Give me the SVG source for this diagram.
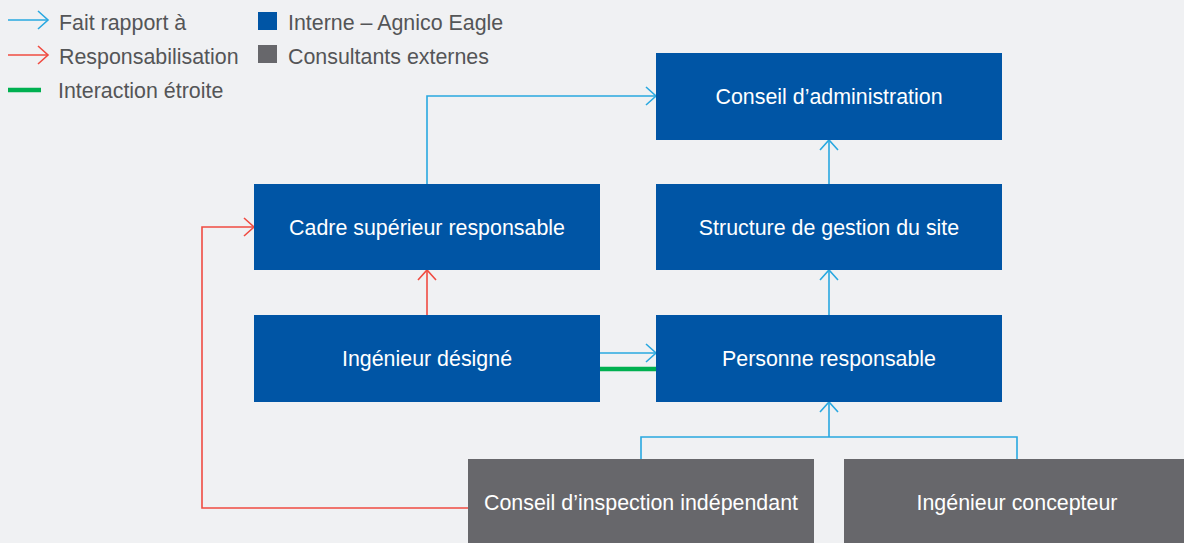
<svg xmlns="http://www.w3.org/2000/svg" width="1184" height="543" viewBox="0 0 1184 543">
<style>
text{font-family:"Liberation Sans",Arial,sans-serif;font-size:21.4px}
.lg{fill:#545557}
.nt{fill:#ffffff;text-anchor:middle}
.int{fill:#0055a5}
.ext{fill:#67676b}
.bl{fill:none;stroke:#29a8e0;stroke-width:1.6}
.rd{fill:none;stroke:#f04b41;stroke-width:1.6}
.gr{fill:none;stroke:#00b050;stroke-width:4.5}
</style>
<defs>
<marker id="ab" markerUnits="userSpaceOnUse" markerWidth="14" markerHeight="22" viewBox="-12 -11 14 22" refX="0" refY="0" orient="auto">
<path d="M-10,-9 L0,0 L-10,9" fill="none" stroke="#29a8e0" stroke-width="1.6"/>
</marker>
<marker id="ar" markerUnits="userSpaceOnUse" markerWidth="14" markerHeight="22" viewBox="-12 -11 14 22" refX="0" refY="0" orient="auto">
<path d="M-10,-9 L0,0 L-10,9" fill="none" stroke="#f04b41" stroke-width="1.6"/>
</marker>
</defs>
<rect width="1184" height="543" fill="#f0f1f3"/>
<g id="legend">
<line class="bl" x1="8" y1="20" x2="48" y2="20" marker-end="url(#ab)"/>
<text class="lg" x="59" y="30">Fait rapport à</text>
<line class="rd" x1="8" y1="55" x2="48" y2="55" marker-end="url(#ar)"/>
<text class="lg" x="59" y="64">Responsabilisation</text>
<line class="gr" x1="8" y1="90" x2="41" y2="90"/>
<text class="lg" x="58" y="98">Interaction étroite</text>
<rect class="int" x="258" y="12" width="19" height="18"/>
<text class="lg" x="288" y="30">Interne – Agnico Eagle</text>
<rect class="ext" x="258" y="45" width="19" height="18"/>
<text class="lg" x="288" y="64">Consultants externes</text>
</g>
<g id="connectors">
<polyline class="bl" points="427,184 427,96 656,96" marker-end="url(#ab)"/>
<line class="bl" x1="829" y1="184" x2="829" y2="140" marker-end="url(#ab)"/>
<line class="bl" x1="829" y1="315" x2="829" y2="270" marker-end="url(#ab)"/>
<line class="rd" x1="427" y1="315" x2="427" y2="270" marker-end="url(#ar)"/>
<line class="bl" x1="600" y1="353" x2="656" y2="353" marker-end="url(#ab)"/>
<line class="gr" x1="600" y1="369" x2="656" y2="369"/>
<polyline class="rd" points="468,508 202,508 202,227 254,227" marker-end="url(#ar)"/>
<polyline class="bl" points="641,459 641,437 1017,437 1017,459"/>
<line class="bl" x1="829" y1="437" x2="829" y2="402" marker-end="url(#ab)"/>
</g>
<g id="n-conseil-admin"><rect class="int" x="656" y="53" width="346" height="87"/><text class="nt" x="829" y="104">Conseil d’administration</text></g>
<g id="n-structure"><rect class="int" x="656" y="184" width="346" height="86"/><text class="nt" x="829" y="235">Structure de gestion du site</text></g>
<g id="n-cadre"><rect class="int" x="254" y="184" width="346" height="86"/><text class="nt" x="427" y="235">Cadre supérieur responsable</text></g>
<g id="n-ingenieur-designe"><rect class="int" x="254" y="315" width="346" height="87"/><text class="nt" x="427" y="366">Ingénieur désigné</text></g>
<g id="n-personne"><rect class="int" x="656" y="315" width="346" height="87"/><text class="nt" x="829" y="366">Personne responsable</text></g>
<g id="n-inspection"><rect class="ext" x="468" y="459" width="346" height="90"/><text class="nt" x="641" y="510">Conseil d’inspection indépendant</text></g>
<g id="n-concepteur"><rect class="ext" x="844" y="459" width="346" height="90"/><text class="nt" x="1017" y="510">Ingénieur concepteur</text></g>
</svg>
